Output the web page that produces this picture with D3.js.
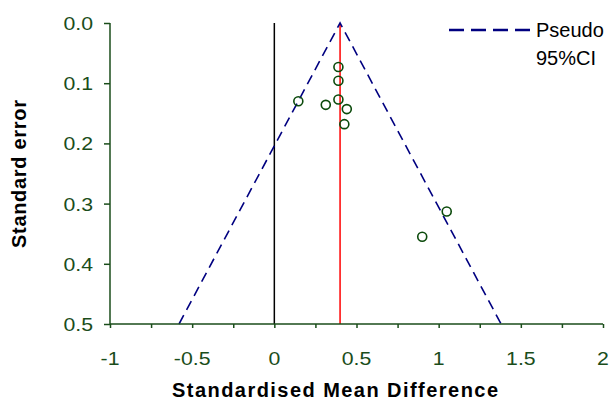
<!DOCTYPE html>
<html>
<head>
<meta charset="utf-8">
<script src="https://cdn.jsdelivr.net/npm/d3@7"></script>
<style>
  html, body { margin: 0; padding: 0; background: #fff; }
  svg { display: block; font-family: "Liberation Sans", Arial, sans-serif; }
</style>
</head>
<body>
<svg id="chart" width="610" height="402"></svg>
<script>
// Data
const smd = [0.39, 0.39, 0.39, 0.146, 0.313, 0.441, 0.426, 1.049, 0.90];
const se  = [0.073, 0.096, 0.127, 0.130, 0.136, 0.143, 0.168, 0.313, 0.355];
const pooled = 0.40;
const xTicks = [-1, -0.5, 0, 0.5, 1, 1.5, 2];
const xMinorTicks = [-1, -0.75, -0.5, -0.25, 0, 0.25, 0.5, 0.75, 1, 1.25, 1.5, 1.75, 2];
const yTicks = [0, 0.1, 0.2, 0.3, 0.4, 0.5];
const legendLabels = ["Pseudo", "95%CI"];

const svg = d3.select("#chart");
const pLeft = 110, pRight = 603, pTop = 23, pBottom = 324;
const green = "#1a4d1a";
const stretch = 1.15;

const x = d3.scaleLinear().domain([-1, 2]).range([pLeft, pRight]);
const y = d3.scaleLinear().domain([0, 0.5]).range([pTop, pBottom]);

// Reference line at 0
svg.append("line")
  .attr("x1", x(0)).attr("x2", x(0)).attr("y1", y(0)).attr("y2", y(0.5))
  .attr("stroke", "#000").attr("stroke-width", 1.5);

// Pooled estimate line
svg.append("line")
  .attr("x1", x(pooled)).attr("x2", x(pooled)).attr("y1", y(0)).attr("y2", y(0.5))
  .attr("stroke", "#ff0000").attr("stroke-width", 1.5);

// Pseudo 95% CI funnel
const seMax = 0.5;
const funnel = [[pooled - 1.96 * seMax, seMax], [pooled, 0], [pooled + 1.96 * seMax, seMax]];
svg.append("path")
  .attr("d", d3.line().x(d => x(d[0])).y(d => y(d[1]))(funnel))
  .attr("fill", "none").attr("stroke", "#000080").attr("stroke-width", 1.6)
  .attr("stroke-dasharray", "10,6");

// Axes
const xAxis = d3.axisBottom(x).tickValues(xMinorTicks).tickSize(4).tickFormat("");
const gx = svg.append("g").attr("transform", `translate(0,${pBottom})`).call(xAxis);
gx.select(".domain").attr("stroke", green).attr("stroke-width", 1.5).attr("d", `M${pLeft},0H${pRight}`);
gx.selectAll(".tick line").attr("stroke", green).attr("stroke-width", 1.5);

svg.append("g").selectAll("text").data(xTicks).join("text")
  .attr("transform", d => `translate(${x(d)},365) scale(${stretch},1)`)
  .attr("text-anchor", "middle")
  .attr("font-size", 18.5).attr("fill", green)
  .text(d => String(d));

const yAxis = d3.axisLeft(y).tickValues(yTicks).tickSize(6).tickFormat("");
const gy = svg.append("g").attr("transform", `translate(${pLeft},0)`).call(yAxis);
gy.select(".domain").attr("stroke", green).attr("stroke-width", 1.5).attr("d", `M0,${pTop}V${pBottom}`);
gy.selectAll(".tick line").attr("stroke", green).attr("stroke-width", 1.5);

svg.append("g").selectAll("text").data(yTicks).join("text")
  .attr("transform", d => `translate(93,${y(d) + 7}) scale(${stretch},1)`)
  .attr("text-anchor", "end")
  .attr("font-size", 18.5).attr("fill", green)
  .text(d => d.toFixed(1));

// Points
svg.append("g").selectAll("circle").data(smd.map((d, i) => [d, se[i]])).join("circle")
  .attr("cx", d => x(d[0])).attr("cy", d => y(d[1])).attr("r", 4.5)
  .attr("fill", "none").attr("stroke", "#0b4a0b").attr("stroke-width", 1.6);

// Axis titles
svg.append("text")
  .attr("x", 172).attr("y", 397)
  .attr("font-size", 20).attr("font-weight", "bold").attr("fill", "#000")
  .attr("textLength", 326).attr("lengthAdjust", "spacing")
  .text("Standardised Mean Difference");

svg.append("text")
  .attr("transform", "translate(26,248) rotate(-90)")
  .attr("font-size", 20).attr("font-weight", "bold").attr("fill", "#000")
  .attr("textLength", 148).attr("lengthAdjust", "spacing")
  .text("Standard error");

// Legend
svg.append("line")
  .attr("x1", 449).attr("x2", 531).attr("y1", 30).attr("y2", 30)
  .attr("stroke", "#000080").attr("stroke-width", 2.5)
  .attr("stroke-dasharray", "15,7");
svg.append("g").selectAll("text").data(legendLabels).join("text")
  .attr("x", 536).attr("y", (d, i) => 37 + i * 28)
  .attr("font-size", 20).attr("fill", "#000")
  .text(d => d);
</script>
</body>
</html>
